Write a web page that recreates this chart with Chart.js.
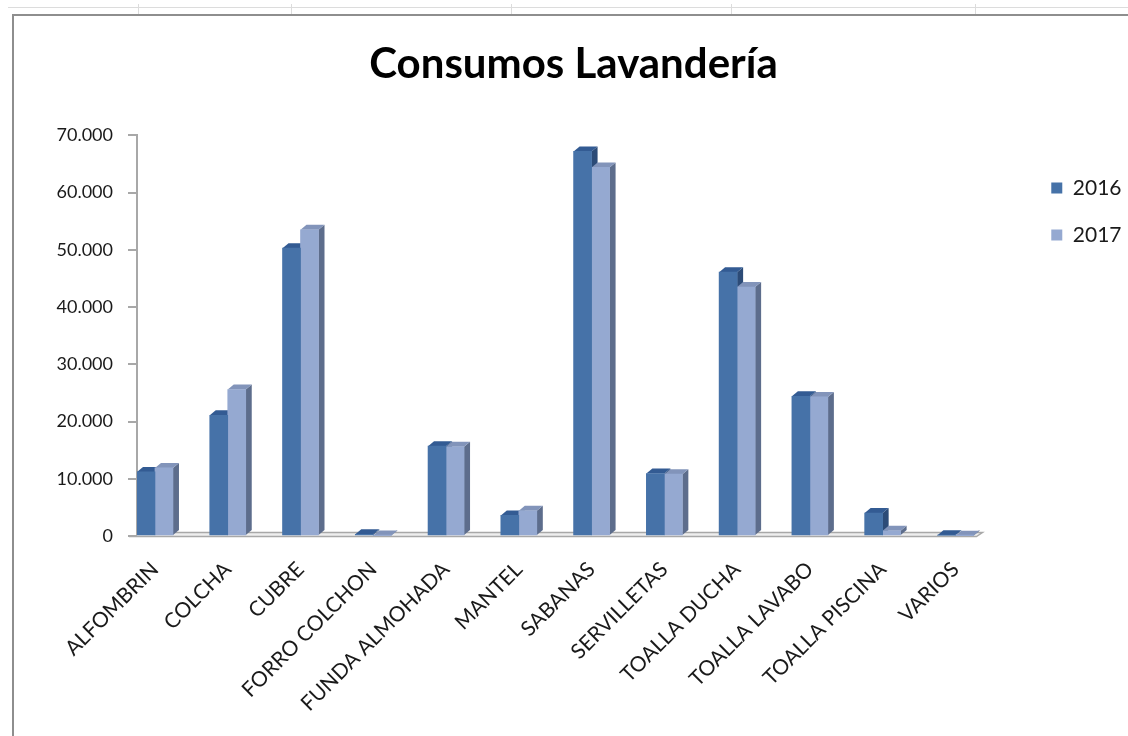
<!DOCTYPE html>
<html lang="es">
<head>
<meta charset="utf-8">
<title>Consumos Lavandería</title>
<script src="https://cdn.jsdelivr.net/npm/chart.js@4.4.1/dist/chart.umd.min.js"></script>
<style>
    html, body { margin: 0; padding: 0; background: #fff; overflow: hidden; }
    .sheet { position: relative; width: 1128px; height: 736px; overflow: hidden; background: #fff; }
    .sheet canvas { position: absolute; left: 0; top: 0; }
    .cell-line { position: absolute; background: #dcdcdc; }
    .frame {
        position: absolute; left: 12px; top: 14px; width: 1140px; height: 740px;
        border-left: 2px solid #8e8e8e; border-top: 2px solid #8e8e8e;
        box-sizing: border-box; pointer-events: none;
    }
</style>
</head>
<body>
<div class="sheet">
    <!-- spreadsheet cell lines behind the chart object -->
    <div class="cell-line" style="left:8px;top:7px;width:1120px;height:1px"></div>
    <div class="cell-line" style="left:138px;top:4px;width:1px;height:10px"></div>
    <div class="cell-line" style="left:291px;top:4px;width:1px;height:10px"></div>
    <div class="cell-line" style="left:511px;top:4px;width:1px;height:10px"></div>
    <div class="cell-line" style="left:731px;top:4px;width:1px;height:10px"></div>
    <div class="cell-line" style="left:975px;top:4px;width:1px;height:10px"></div>
    <canvas id="lavanderiaChart" width="1140" height="736"></canvas>
    <div class="frame"></div>
</div>
<script>
// Consumos por artículo, 2016 vs 2017
const categories = ['ALFOMBRIN', 'COLCHA', 'CUBRE', 'FORRO COLCHON', 'FUNDA ALMOHADA', 'MANTEL',
    'SABANAS', 'SERVILLETAS', 'TOALLA DUCHA', 'TOALLA LAVABO', 'TOALLA PISCINA', 'VARIOS'];
const consumo2016 = [11200, 21100, 50300, 300, 15700, 3600, 67200, 10900, 46100, 24400, 4000, 150];
const consumo2017 = [11900, 25600, 53500, 100, 15600, 4400, 64400, 10800, 43500, 24300, 900, 60];
const yTickValues = [0, 10000, 20000, 30000, 40000, 50000, 60000, 70000];
const seriesLabels = ['2016', '2017'];

const DEPTH_X = 6;
const DEPTH_Y = 5;

function formatMiles(v) {
    return String(v).replace(/\B(?=(\d{3})+(?!\d))/g, '.');
}

function toPoints(values) {
    return values.map((v, i) => ({ x: i, y: v }));
}

// Draws the floor plus the side and top faces of each column,
// the front faces are the regular Chart.js bars drawn afterwards
const columns3d = {
    id: 'columns3d',
    beforeDatasetsDraw(chart) {
        const ctx = chart.ctx;
        const xScale = chart.scales.x;
        const base = chart.scales.y.getPixelForValue(0);
        const left = chart.chartArea.left;
        const floorEnd = xScale.getPixelForValue(categories.length - 1) + 21;

        ctx.save();
        ctx.fillStyle = '#eeeeee';
        ctx.beginPath();
        ctx.moveTo(left, base);
        ctx.lineTo(floorEnd, base);
        ctx.lineTo(floorEnd + DEPTH_X, base - DEPTH_Y + 1);
        ctx.lineTo(left, base - DEPTH_Y + 1);
        ctx.closePath();
        ctx.fill();
        ctx.strokeStyle = '#a8a8a8';
        ctx.lineWidth = 1.5;
        ctx.beginPath();
        ctx.moveTo(left - 8, base + 0.5);
        ctx.lineTo(floorEnd, base + 0.5);
        ctx.lineTo(floorEnd + DEPTH_X, base - DEPTH_Y + 1.5);
        ctx.lineTo(left, base - DEPTH_Y + 1.5);
        ctx.stroke();

        for (let i = 0; i < categories.length; i++) {
            chart.data.datasets.forEach((ds, d) => {
                const bar = chart.getDatasetMeta(d).data[i];
                if (!bar) return;
                const p = bar.getProps(['x', 'y', 'width', 'base'], true);
                const l = p.x - p.width / 2;
                const r = p.x + p.width / 2;
                const top = p.y;
                // side face
                ctx.fillStyle = ds.sideColor;
                ctx.beginPath();
                ctx.moveTo(r, top);
                ctx.lineTo(r + DEPTH_X, top - DEPTH_Y);
                ctx.lineTo(r + DEPTH_X, p.base - DEPTH_Y);
                ctx.lineTo(r, p.base);
                ctx.closePath();
                ctx.fill();
                // top face
                ctx.fillStyle = ds.topColor;
                ctx.beginPath();
                ctx.moveTo(l, top);
                ctx.lineTo(l + DEPTH_X, top - DEPTH_Y);
                ctx.lineTo(r + DEPTH_X, top - DEPTH_Y);
                ctx.lineTo(r, top);
                ctx.closePath();
                ctx.fill();
            });
        }
        ctx.restore();
    }
};

const ctx = document.getElementById('lavanderiaChart').getContext('2d');
window.lavanderiaChart = new Chart(ctx, {
    type: 'bar',
    data: {
        datasets: [{
            label: seriesLabels[0],
            data: toPoints(consumo2016),
            backgroundColor: '#4672a8',
            sideColor: '#2c4b77',
            topColor: '#335b93',
            borderWidth: 0,
            barThickness: 18
        }, {
            label: seriesLabels[1],
            data: toPoints(consumo2017),
            backgroundColor: '#95a9d1',
            sideColor: '#5d6d8c',
            topColor: '#8294ba',
            borderWidth: 0,
            barThickness: 18
        }]
    },
    options: {
        responsive: false,
        animation: false,
        devicePixelRatio: 1,
        layout: {
            padding: { left: 15.5, right: 8.5, top: 0, bottom: 0 }
        },
        plugins: {
            title: {
                display: true,
                text: 'Consumos Lavandería',
                color: '#000',
                font: { family: 'Lato', size: 42, weight: 'bold' },
                padding: { top: 39, bottom: 46 }
            },
            legend: {
                position: 'right',
                align: 'start',
                title: {
                    display: true,
                    text: '',
                    font: { size: 10 },
                    padding: { top: 139.5, bottom: 0 }
                },
                labels: {
                    boxWidth: 11,
                    boxHeight: 11,
                    padding: 26,
                    color: '#1a1a1a',
                    font: { family: 'Lato', size: 21 }
                }
            },
            tooltip: { enabled: false }
        },
        scales: {
            x: {
                type: 'linear',
                offset: false,
                min: -0.247,
                max: 11.96,
                grid: { display: false, drawTicks: false, offset: false },
                border: { display: false },
                afterFit: function(scale) {
                    scale.height = 200;
                    scale.paddingLeft = 0;
                    scale.paddingRight = 0;
                },
                ticks: {
                    stepSize: 1,
                    includeBounds: false,
                    autoSkip: false,
                    minRotation: 45,
                    maxRotation: 45,
                    padding: 21,
                    color: '#1a1a1a',
                    font: { family: 'Lato', size: 21 },
                    callback: function(value) {
                        return categories[value] !== undefined ? categories[value] : '';
                    }
                }
            },
            y: {
                min: 0,
                max: 70000,
                afterFit: function(scale) { scale.width = 121.5; },
                afterBuildTicks: function(scale) {
                    scale.ticks = yTickValues.map(v => ({ value: v }));
                },
                grid: {
                    drawOnChartArea: false,
                    drawTicks: true,
                    tickLength: 9,
                    color: '#a8a8a8',
                    lineWidth: 2
                },
                border: { display: true, color: '#a8a8a8', width: 2 },
                ticks: {
                    padding: 15,
                    color: '#1a1a1a',
                    font: { family: 'Lato', size: 18 },
                    callback: function(value) { return formatMiles(value); }
                }
            }
        }
    },
    plugins: [columns3d]
});
</script>
</body>
</html>
